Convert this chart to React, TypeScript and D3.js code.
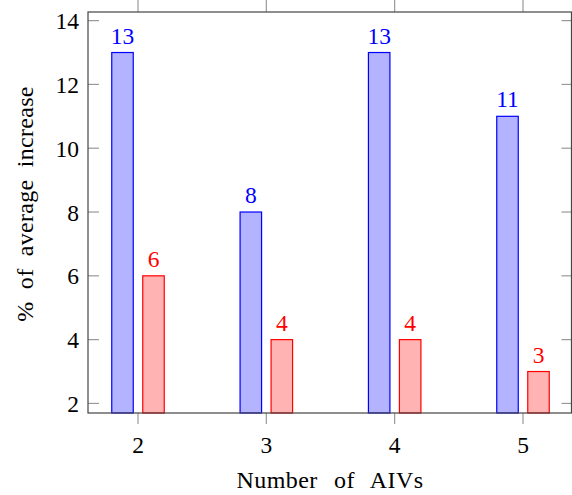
import React from "react";
import * as d3 from "d3";

// Number of AIVs and the two percentage series
const categories = [2, 3, 4, 5];
const seriesA = [13, 8, 13, 11];
const seriesB = [6, 4, 4, 3];
const yTicks = [2, 4, 6, 8, 10, 12, 14];

const W = 572;
const H = 495;
const plot = { left: 88, right: 571.5, top: 12, bottom: 413 };
const FONT = "'Liberation Serif'";

export default function App() {
  const x = d3.scaleLinear().domain([2, 5]).range([138, 523]);
  const y = d3.scaleLinear().domain([1.7, 14.27]).range([plot.bottom, plot.top]);
  const barW = 21.5;
  const offset = 15.5;

  const series = [
    { values: seriesA, dx: -offset, fill: "#b3b3ff", stroke: "#0000ff", text: "#0000ff" },
    { values: seriesB, dx: offset, fill: "#ffb3b3", stroke: "#ff0000", text: "#ff0000" },
  ];

  const txt = { fontFamily: FONT, fontSize: "23.5px" } as React.CSSProperties;
  const xTitle = { fontFamily: FONT, fontSize: "24px", wordSpacing: "10px", letterSpacing: "0.4px" } as React.CSSProperties;
  const yTitle = { fontFamily: FONT, fontSize: "24px", wordSpacing: "6px", letterSpacing: "0.3px" } as React.CSSProperties;

  return (
    <svg
      width={W}
      height={H}
      style={{ position: "absolute", left: 0, top: 0, display: "block" }}
    >
      <rect x={0} y={0} width={W} height={H} fill="#fff" />
      {/* bars */}
      {series.map((s, si) =>
        categories.map((c, i) => {
          const cx = x(c) + s.dx;
          const top = y(s.values[i]);
          return (
            <g key={`${si}-${i}`}>
              <rect
                x={cx - barW / 2}
                y={top}
                width={barW}
                height={plot.bottom - top}
                fill={s.fill}
                stroke={s.stroke}
                strokeWidth={1.2}
              />
              <text x={cx} y={top - 9} textAnchor="middle" style={txt} fill={s.text}>
                {String(s.values[i])}
              </text>
            </g>
          );
        })
      )}
      {/* y ticks (inward, both sides) */}
      {yTicks.map((t) => (
        <g key={`y${t}`}>
          <line x1={plot.left} x2={plot.left + 11} y1={y(t)} y2={y(t)} stroke="#999" strokeWidth={1.2} />
          <line x1={plot.right - 10} x2={plot.right} y1={y(t)} y2={y(t)} stroke="#999" strokeWidth={1.2} />
          <text x={plot.left - 9} y={y(t) + 8.5} textAnchor="end" style={txt} fill="#000">
            {String(t)}
          </text>
        </g>
      ))}
      {/* x ticks (outward, both sides) */}
      {categories.map((c) => (
        <g key={`x${c}`}>
          <line x1={x(c)} x2={x(c)} y1={plot.bottom} y2={plot.bottom + 11} stroke="#999" strokeWidth={1.2} />
          <line x1={x(c)} x2={x(c)} y1={plot.top} y2={plot.top - 12} stroke="#999" strokeWidth={1.2} />
          <text x={x(c)} y={453} textAnchor="middle" style={txt} fill="#000">
            {String(c)}
          </text>
        </g>
      ))}
      {/* axis frame */}
      <rect
        x={plot.left}
        y={plot.top}
        width={plot.right - plot.left}
        height={plot.bottom - plot.top}
        fill="none"
        stroke="#444"
        strokeWidth={1.2}
      />
      {/* axis titles */}
      <text x={330} y={488} textAnchor="middle" style={xTitle} fill="#000">
        Number of AIVs
      </text>
      <text
        transform="translate(33, 204) rotate(-90)"
        textAnchor="middle"
        style={yTitle}
        fill="#000"
      >
        % of average increase
      </text>
    </svg>
  );
}
